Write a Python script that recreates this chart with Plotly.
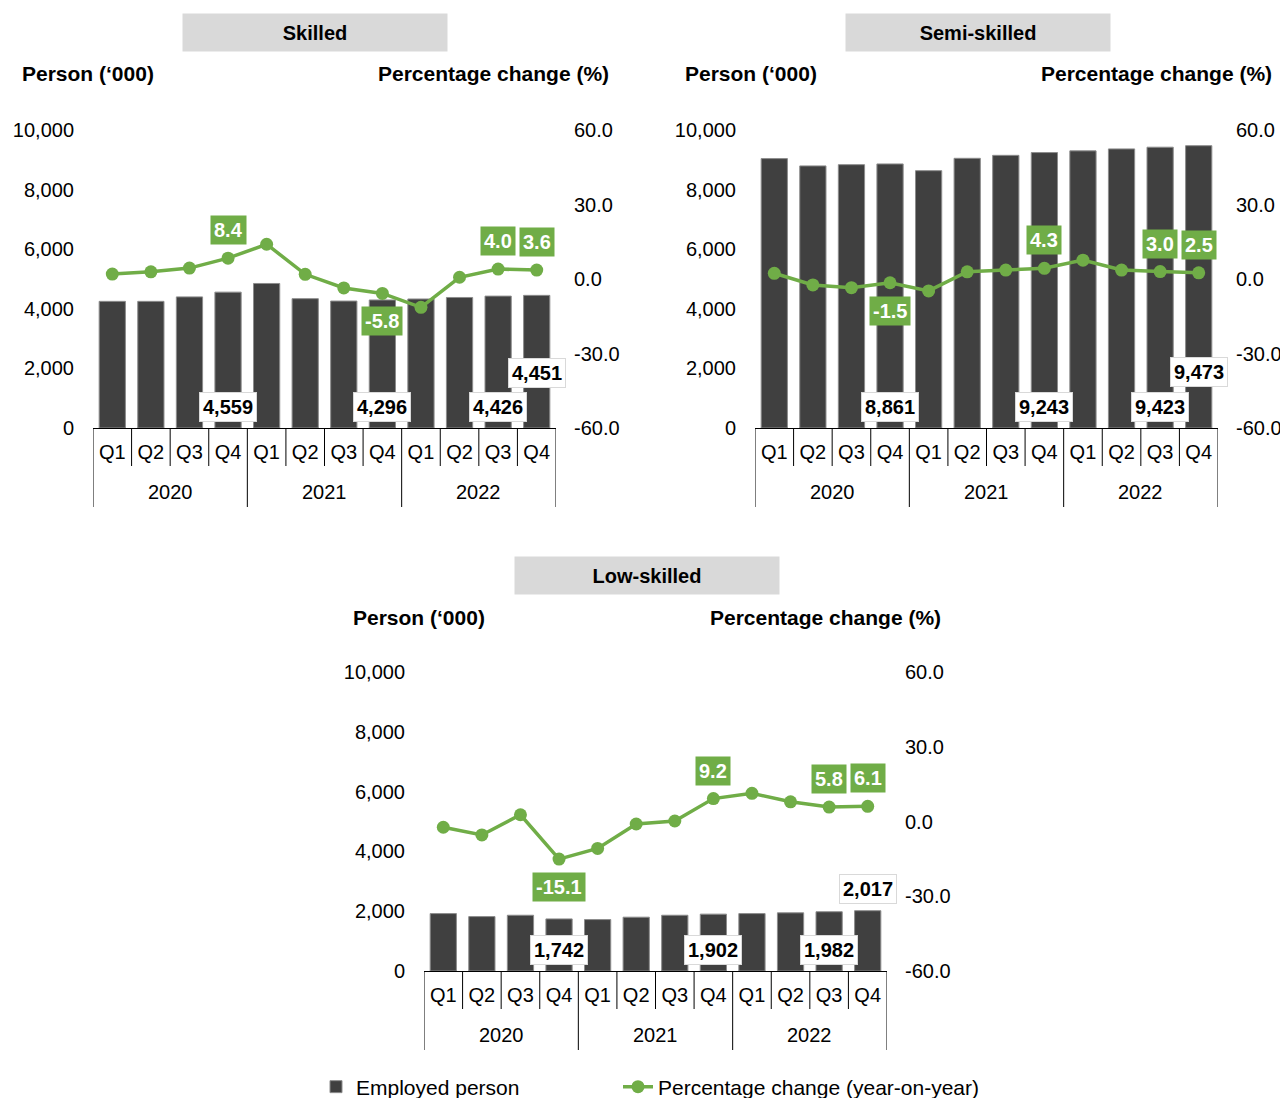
import plotly.graph_objects as go

# ---------------- data ----------------
years = ["2020"] * 4 + ["2021"] * 4 + ["2022"] * 4
quarters = ["Q1", "Q2", "Q3", "Q4"] * 3

skilled_emp = [4250, 4250, 4400, 4559, 4850, 4340, 4260, 4296, 4330, 4380, 4426, 4451]
skilled_pct = [2.0, 2.9, 4.4, 8.4, 14.0, 1.9, -3.6, -5.8, -11.4, 0.7, 4.0, 3.6]

semi_emp = [9040, 8795, 8837, 8861, 8635, 9050, 9150, 9243, 9300, 9365, 9423, 9473]
semi_pct = [2.3, -2.4, -3.5, -1.5, -4.8, 2.9, 3.6, 4.3, 7.6, 3.6, 3.0, 2.5]

low_emp = [1920, 1820, 1865, 1742, 1720, 1800, 1865, 1902, 1920, 1945, 1982, 2017]
low_pct = [-2.3, -5.4, 2.7, -15.1, -10.8, -1.0, 0.2, 9.2, 11.3, 7.9, 5.8, 6.1]

labelled_idx = [3, 7, 10, 11]

left_ticks = [0, 2000, 4000, 6000, 8000, 10000]
right_ticks = [-60, -30, 0, 30, 60]
right_ticktext = ["-60.0", "-30.0", "0.0", "30.0", "60.0"]

panel_titles = ["Skilled", "Semi-skilled", "Low-skilled"]
left_title = "Person (\u2018000)"
right_title = "Percentage change (%)"
legend_names = ["Employed person", "Percentage change (year-on-year)"]

# ---------------- derived ----------------
cats = [f"{y} {q}" for y, q in zip(years, quarters)]
year_groups = []
for idx, y in enumerate(years):
    if not year_groups or year_groups[-1][0] != y:
        year_groups.append([y, idx, idx])
    else:
        year_groups[-1][2] = idx

# ---------------- styling ----------------
FONT = "Liberation Sans, Arial, sans-serif"
BAR_COLOR = "#404040"
GREEN = "#70AD47"
OFF = 8                      # page body margin
W, H = 1288 - OFF, 1106 - 2 * OFF


def px(v):
    return v - OFF


panels = [
    dict(x0=93, x1=556, yt=130, yb=428, tcx=315, tcy=32.5, pl=20, pr=611, py=74,
         emp=skilled_emp, pct=skilled_pct, last_mode="base", last_shift=55),
    dict(x0=755, x1=1218, yt=130, yb=428, tcx=978, tcy=32.5, pl=683, pr=1274, py=74,
         emp=semi_emp, pct=semi_pct, last_mode="base", last_shift=56),
    dict(x0=424, x1=887, yt=672, yb=971, tcx=647, tcy=575.5, pl=351, pr=943, py=617,
         emp=low_emp, pct=low_pct, last_mode="top", last_shift=22),
]

fig = go.Figure()
layout = dict(
    width=W, height=H, margin=dict(l=0, r=0, t=0, b=0, autoexpand=False),
    paper_bgcolor="white", plot_bgcolor="white",
    font=dict(family=FONT, size=20, color="black"),
    bargap=0.32,
    showlegend=True,
    legend=dict(orientation="h", x=px(316) / W, xanchor="left",
                y=1 - px(1087) / H, yanchor="middle",
                font=dict(size=21, color="black"), bgcolor="rgba(0,0,0,0)"),
    legend2=dict(orientation="h", x=px(618) / W, xanchor="left",
                 y=1 - px(1087) / H, yanchor="middle",
                 font=dict(size=21, color="black"), bgcolor="rgba(0,0,0,0)"),
)
annotations = []
shapes = []

for i, p in enumerate(panels):
    xa = "x" if i == 0 else f"x{i + 1}"
    yl = "y" if i == 0 else f"y{2 * i + 1}"
    yr = f"y{2 * i + 2}"
    xkey = "xaxis" if i == 0 else f"xaxis{i + 1}"
    ylkey = "yaxis" if i == 0 else f"yaxis{2 * i + 1}"
    yrkey = f"yaxis{2 * i + 2}"

    xdom = [px(p["x0"]) / W, px(p["x1"]) / W]
    ydom = [1 - px(p["yb"]) / H, 1 - px(p["yt"]) / H]
    ph = p["yb"] - p["yt"]

    fig.add_trace(go.Bar(
        x=cats, y=p["emp"], xaxis=xa, yaxis=yl,
        marker=dict(color=BAR_COLOR, line=dict(color="#8c8c8c", width=1)),
        name=legend_names[0], showlegend=(i == 0), legend="legend", hoverinfo="skip",
    ))
    fig.add_trace(go.Scatter(
        x=cats, y=p["pct"], xaxis=xa, yaxis=yr,
        mode="lines+markers", line=dict(color=GREEN, width=3.5),
        marker=dict(color=GREEN, size=13),
        name=legend_names[1], showlegend=(i == 0), legend="legend2", hoverinfo="skip",
    ))

    layout[xkey] = dict(
        type="category", domain=xdom, anchor=yl, range=[-0.5, len(cats) - 0.5],
        categoryorder="array", categoryarray=cats,
        tickvals=cats, ticktext=quarters,
        showline=True, linecolor="black", linewidth=1, ticks="",
        ticklabelstandoff=6, tickfont=dict(size=20, color="black"), showgrid=False,
    )
    layout[ylkey] = dict(
        domain=ydom, anchor=xa, range=[0, 10000], tickvals=left_ticks, tickformat=",",
        showgrid=False, zeroline=False, showline=False, ticks="",
        ticklabelstandoff=18, tickfont=dict(size=20, color="black"),
    )
    layout[yrkey] = dict(
        overlaying=yl, side="right", anchor=xa, range=[-60, 60],
        tickvals=right_ticks, ticktext=right_ticktext,
        showgrid=False, zeroline=False, showline=False, ticks="",
        ticklabelstandoff=17, tickfont=dict(size=20, color="black"),
    )

    # category boundary ticks and year dividers
    group_bounds = {g[1] - 0.5 for g in year_groups} | {g[2] + 0.5 for g in year_groups}
    for b in range(len(cats) + 1):
        xb = b - 0.5
        depth = 79 if xb in group_bounds else 38
        shapes.append(dict(type="line", xref=xa, yref=f"{yl} domain",
                           x0=xb, x1=xb, y0=0, y1=-depth / ph,
                           line=dict(color="black", width=1)))
    for g in year_groups:
        annotations.append(dict(
            text=g[0], xref=xa, yref=f"{yl} domain", x=(g[1] + g[2]) / 2, y=-64 / ph,
            xanchor="center", yanchor="middle", showarrow=False,
            font=dict(size=20, color="black"),
        ))

    # title box
    annotations.append(dict(
        text=f"<b>{panel_titles[i]}</b>", xref="paper", yref="paper",
        x=px(p["tcx"]) / W, y=1 - px(p["tcy"]) / H, xanchor="center", yanchor="middle",
        showarrow=False, bgcolor="#d9d9d9", width=264, height=37, borderpad=0,
        font=dict(size=20, color="black"),
    ))
    annotations.append(dict(
        text=f"<b>{left_title}</b>", xref="paper", yref="paper",
        x=px(p["pl"]) / W, y=1 - px(p["py"]) / H, xanchor="left", yanchor="middle",
        showarrow=False, font=dict(size=21, color="black"),
    ))
    annotations.append(dict(
        text=f"<b>{right_title}</b>", xref="paper", yref="paper",
        x=px(p["pr"]) / W, y=1 - px(p["py"]) / H, xanchor="right", yanchor="middle",
        showarrow=False, font=dict(size=21, color="black"),
    ))

    # data labels
    for k in labelled_idx:
        v = p["emp"][k]
        if k == labelled_idx[-1]:
            yv = 0 if p["last_mode"] == "base" else v
            ys = p["last_shift"]
        else:
            yv, ys = 0, 21
        annotations.append(dict(
            text=f"<b>{v:,}</b>", xref=xa, yref=yl, x=k, y=yv, yshift=ys,
            xanchor="center", yanchor="middle", showarrow=False,
            bgcolor="white", bordercolor="#d9d9d9", borderwidth=1, borderpad=3,
            font=dict(size=20, color="black"),
        ))
        pv = p["pct"][k]
        annotations.append(dict(
            text=f"<b>{pv:.1f}</b>", xref=xa, yref=yr, x=k, y=pv,
            yshift=(-28 if pv < 0 else 28),
            xanchor="center", yanchor="middle", showarrow=False,
            bgcolor=GREEN, borderpad=3,
            font=dict(size=20, color="white"),
        ))

layout["annotations"] = annotations
layout["shapes"] = shapes
fig.update_layout(**layout)
fig.write_html("out.html")
